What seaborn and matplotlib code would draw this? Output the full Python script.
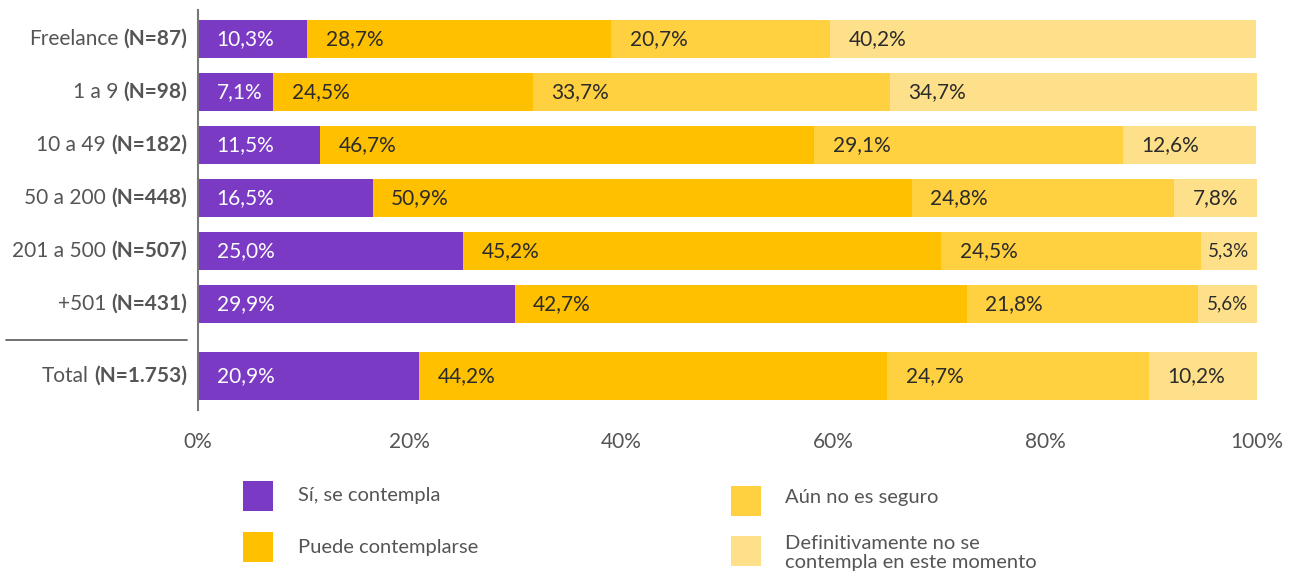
import numpy as np
import pandas as pd
import matplotlib
matplotlib.use("Agg")
import matplotlib.pyplot as plt
import matplotlib.transforms as mtransforms
from matplotlib.patches import Rectangle
from matplotlib.lines import Line2D
import seaborn as sns

# ---------------- data ----------------
categories = ["Freelance", "1 a 9", "10 a 49", "50 a 200", "201 a 500", "+501", "Total"]
n_labels = ["(N=87)", "(N=98)", "(N=182)", "(N=448)", "(N=507)", "(N=431)", "(N=1.753)"]
series_names = ["Sí, se contempla", "Puede contemplarse", "Aún no es seguro",
                "Definitivamente no se\ncontempla en este momento"]
si_contempla = [10.3, 7.1, 11.5, 16.5, 25.0, 29.9, 20.9]
puede_contemplarse = [28.7, 24.5, 46.7, 50.9, 45.2, 42.7, 44.2]
aun_no_seguro = [20.7, 33.7, 29.1, 24.8, 24.5, 21.8, 24.7]
no_contempla = [40.2, 34.7, 12.6, 7.8, 5.3, 5.6, 10.2]
x_ticks = [0, 20, 40, 60, 80, 100]
x_tick_labels = ["0%", "20%", "40%", "60%", "80%", "100%"]

colors = ["#7A3AC4", "#FFC000", "#FFD03F", "#FFE08A"]
text_gray = "#555555"

# ---------------- style ----------------
sns.set_theme(style="white")
plt.rcParams["font.family"] = ["Lato", "DejaVu Sans"]

W, H = 1291, 576
fig = plt.figure(figsize=(W / 100, H / 100), dpi=100)
ax = fig.add_axes([198 / W, 1 - 410 / H, (1257 - 198) / W, 400 / H])

# row positions (gap before total)
positions = [0, 1, 2, 3, 4, 5, 6.36]
values = [si_contempla, puede_contemplarse, aun_no_seguro, no_contempla]

rows = []
for s_idx, vals in enumerate(values):
    for c_idx, cat in enumerate(categories):
        left = sum(values[k][c_idx] for k in range(s_idx))
        rows.append(dict(category=cat, pos=positions[c_idx], series=s_idx,
                         value=vals[c_idx], left=left, cum=left + vals[c_idx],
                         is_total=(cat == "Total")))
df = pd.DataFrame(rows)

# draw stacked bars as overlapping cumulative bars (last series first)
for s_idx in reversed(range(4)):
    sub = df[df.series == s_idx]
    for is_total, width in [(False, 0.70), (True, 0.89)]:
        part = sub[sub.is_total == is_total]
        sns.barplot(data=part, x="cum", y="pos", orient="y", native_scale=True,
                    color=colors[s_idx], saturation=1, width=width, linewidth=0,
                    errorbar=None, ax=ax)

# value labels
for _, r in df.iterrows():
    txt = f"{r.value:.1f}".replace(".", ",") + "%"
    color = "white" if r.series == 0 else "#2b2b2b"
    small = r.value < 6
    fs = 13.5 if small else 15
    if small:
        ax.text(r.left + r.value / 2, r.pos, txt, ha="center", va="center",
                fontsize=fs, color=color)
    else:
        ax.text(r.left + 1.75, r.pos, txt, ha="left", va="center",
                fontsize=fs, color=color)

ax.set_xlim(0, 100)
ax.set_ylim(7.0, -0.547)
ax.set_xticks(x_ticks)
ax.set_xticklabels(x_tick_labels)
ax.set_yticks([])
ax.set_xlabel("")
ax.set_ylabel("")
ax.tick_params(axis="x", length=0, pad=16, labelsize=15, labelcolor=text_gray)
for side in ["top", "right", "bottom"]:
    ax.spines[side].set_visible(False)
ax.spines["left"].set_color("#777777")
ax.spines["left"].set_linewidth(1.5)

# y labels: normal category + bold N
fig.canvas.draw()
renderer = fig.canvas.get_renderer()
base = ax.get_yaxis_transform()
for cat, nl, p in zip(categories, n_labels, positions):
    tb = ax.text(0, p, nl, ha="right", va="center", fontsize=15, fontweight="bold",
                 color=text_gray,
                 transform=mtransforms.offset_copy(base, fig=fig, x=-11, y=0, units="dots"))
    wb = tb.get_window_extent(renderer).width
    ax.text(0, p, cat, ha="right", va="center", fontsize=15, color=text_gray,
            transform=mtransforms.offset_copy(base, fig=fig, x=-11 - wb - 5, y=0, units="dots"))

# separator line above total
fig.add_artist(Line2D([6 / W, 187 / W], [1 - 340 / H] * 2, color="#666666", lw=1.3))

# legend (manual)
legend_items = [(243, 481, 298, 496), (243, 532, 298, 547),
                (731, 486, 785, 497), (731, 536, 785, 553)]
for (sx, sy, tx, ty), name, c in zip(legend_items, series_names, colors):
    fig.add_artist(Rectangle((sx / W, 1 - (sy + 30) / H), 30 / W, 30 / H,
                             facecolor=c, edgecolor="none", transform=fig.transFigure))
    fig.text(tx / W, 1 - ty / H, name, ha="left", va="center", fontsize=14.5,
             color=text_gray, linespacing=1.2)

fig.savefig("out.png", dpi=100)
